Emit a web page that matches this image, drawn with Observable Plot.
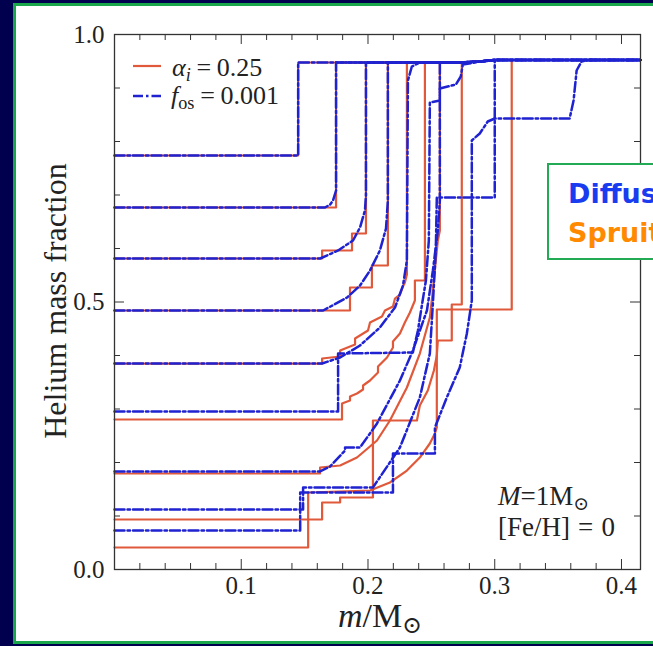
<!DOCTYPE html>
<html>
<head>
<meta charset="utf-8">
<script src="https://cdn.jsdelivr.net/npm/d3@7"></script>
<script src="https://cdn.jsdelivr.net/npm/@observablehq/plot@0.6"></script>
<style>
  html, body { margin: 0; padding: 0; }
  body { width: 653px; height: 646px; overflow: hidden; position: relative; background: #00004f; font-family: "Liberation Serif", "DejaVu Serif", serif; }
  #panel { position: absolute; left: 13px; top: 3px; width: 680px; height: 635px; background: #fff; border: 3px solid #1aa64b; }
  #chart { position: absolute; left: 0; top: 0; }
  .lbl { position: absolute; white-space: nowrap; line-height: 1; color: #222; }
  .lbl sub { font-size: 70%; vertical-align: -0.25em; }
  .sp { margin: 0 0.22em; }
  .sp2 { margin: 0 0.3em; }
  #box { position: absolute; left: 547px; top: 163px; width: 140px; height: 93px; background: #fff; border: 2px solid #22aa55; overflow: hidden; }
  #box div { position: absolute; left: 19px; font-family: "DejaVu Sans", sans-serif; font-weight: bold; font-size: 27px; line-height: 1; white-space: nowrap; }
</style>
</head>
<body>
<div id="panel"></div>
<div id="chart"></div>

<script>
// ---- axis ticks ----
const xMajorTicks = [0.1, 0.2, 0.3, 0.4];
const xMinorTicks = [0.02, 0.04, 0.06, 0.08, 0.12, 0.14, 0.16, 0.18, 0.22, 0.24, 0.26, 0.28, 0.32, 0.34, 0.36, 0.38];
const yMajorTicks = [0.0, 0.5, 1.0];
const yMinorTicks = [0.1, 0.2, 0.3, 0.4, 0.6, 0.7, 0.8, 0.9];

// ---- helium profiles: [m/Msun, Y] ----
// shared outer envelope (helium-rich plateau)
const topEnvelope = [[0.2724, 0.9477], [0.2882, 0.9495], [0.3000, 0.9523], [0.415, 0.9523]];

// alpha_i = 0.25 (red, solid)
const redA = [[0, 0.7738], [0.1449, 0.7738], [0.1449, 0.9477]];
const redB = [[0, 0.6766], [0.1748, 0.6766], [0.1748, 0.9477]];
const redC = [[0, 0.5813], [0.1638, 0.5813], [0.1638, 0.5963], [0.1874, 0.5963], [0.1874, 0.6280], [0.1984, 0.6280], [0.1984, 0.9477]];
const redD = [[0, 0.4841], [0.1858, 0.4841], [0.1858, 0.5271], [0.2031, 0.5271], [0.2031, 0.5682], [0.2157, 0.5682], [0.2157, 0.9477]];
const redE = [[0, 0.3850], [0.1638, 0.3850], [0.1638, 0.3944], [0.1780, 0.3981], [0.1780, 0.4093], [0.1898, 0.4206], [0.1898, 0.4318],
  [0.2000, 0.4467], [0.2016, 0.4617], [0.2110, 0.4729], [0.2134, 0.4841], [0.2197, 0.4916], [0.2213, 0.5065], [0.2252, 0.5140],
  [0.2276, 0.5290], [0.2291, 0.5364], [0.2307, 0.5514], [0.2307, 0.9477]];
const redF = [[0, 0.2804], [0.1795, 0.2804], [0.1795, 0.3103], [0.1858, 0.3159], [0.1858, 0.3234], [0.1913, 0.3290], [0.1961, 0.3364],
  [0.1961, 0.3439], [0.2016, 0.3533], [0.2079, 0.3682], [0.2079, 0.3794], [0.2150, 0.3963], [0.2197, 0.4150], [0.2197, 0.4262],
  [0.2252, 0.4411], [0.2291, 0.4617], [0.2331, 0.4804], [0.2370, 0.5028], [0.2370, 0.5402], [0.2449, 0.5402], [0.2449, 0.9477]];
const redG = [[0, 0.1794], [0.1622, 0.1794], [0.1622, 0.1907], [0.1780, 0.1944], [0.1913, 0.2093], [0.2071, 0.2411], [0.2173, 0.2785],
  [0.2307, 0.3402], [0.2409, 0.4037], [0.2488, 0.4710], [0.2512, 0.5215], [0.2535, 0.5776], [0.2551, 0.6150], [0.2567, 0.6336], [0.2567, 0.9477]];
const redH = [[0, 0.0935], [0.1638, 0.0935], [0.1638, 0.1252], [0.1780, 0.1252], [0.1780, 0.1346], [0.2039, 0.1346], [0.2039, 0.2785],
  [0.2386, 0.2785], [0.2409, 0.3065], [0.2472, 0.3346], [0.2520, 0.3720], [0.2543, 0.4000], [0.2551, 0.4280], [0.2661, 0.4280],
  [0.2661, 0.4953], [0.2740, 0.4953], [0.2740, 0.9477]];
const redI = [[0, 0.0411], [0.1528, 0.0411], [0.1528, 0.1439], [0.2016, 0.1477], [0.2173, 0.1626], [0.2307, 0.1850], [0.2409, 0.2093],
  [0.2488, 0.2355], [0.2528, 0.2542], [0.2543, 0.2654], [0.2543, 0.4860], [0.3134, 0.4860], [0.3134, 0.9523]];

// f_os = 0.001 (blue, dash-dot)
const blueA = [[0, 0.7738], [0.1449, 0.7738], [0.1449, 0.9477]];
const blueB = [[0, 0.6766], [0.1661, 0.6766], [0.1701, 0.6822], [0.1724, 0.6897], [0.1748, 0.7084], [0.1748, 0.9477]];
const blueC = [[0, 0.5813], [0.1622, 0.5813], [0.1764, 0.5963], [0.1882, 0.6150], [0.1937, 0.6393], [0.1976, 0.6710], [0.1984, 0.7000], [0.1984, 0.9477]];
const blueD = [[0, 0.4841], [0.1646, 0.4841], [0.1835, 0.5084], [0.1937, 0.5308], [0.2016, 0.5589], [0.2094, 0.5963], [0.2142, 0.6374], [0.2157, 0.6897], [0.2157, 0.9477]];
const blueE = [[0, 0.3850], [0.1638, 0.3850], [0.1780, 0.3963], [0.1937, 0.4187], [0.2094, 0.4523], [0.2213, 0.4897], [0.2276, 0.5308],
  [0.2307, 0.5776], [0.2315, 0.9140], [0.2346, 0.9402], [0.2409, 0.9477]];
const blueF = [[0, 0.2953], [0.1764, 0.2953], [0.1764, 0.4037], [0.2354, 0.4056], [0.2394, 0.4467], [0.2425, 0.4935], [0.2457, 0.5402],
  [0.2480, 0.6150], [0.2488, 0.8729], [0.2567, 0.8766], [0.2567, 0.8991], [0.2693, 0.9065], [0.2732, 0.9215], [0.2748, 0.9439], [0.2843, 0.9477]];
const blueG = [[0, 0.1832], [0.1622, 0.1832], [0.1701, 0.1926], [0.1819, 0.2224], [0.1819, 0.2280], [0.1937, 0.2280], [0.2071, 0.2729],
  [0.2252, 0.3533], [0.2354, 0.4093], [0.2465, 0.4841], [0.2512, 0.5589], [0.2551, 0.6336], [0.2567, 0.6897], [0.2567, 0.9477]];
const blueH = [[0, 0.1121], [0.1488, 0.1121], [0.1488, 0.1533], [0.2039, 0.1533], [0.2252, 0.2280], [0.2409, 0.3215], [0.2488, 0.4037],
  [0.2512, 0.4972], [0.2535, 0.5963], [0.2543, 0.6953], [0.3000, 0.6953], [0.3000, 0.9523]];
const blueI = [[0, 0.0729], [0.1465, 0.0729], [0.1465, 0.1439], [0.2197, 0.1439], [0.2197, 0.2168], [0.2528, 0.2168], [0.2528, 0.2654],
  [0.2622, 0.3215], [0.2724, 0.3776], [0.2780, 0.4411], [0.2819, 0.5028], [0.2819, 0.8019], [0.2882, 0.8150], [0.2945, 0.8374],
  [0.3000, 0.8430], [0.3591, 0.8430], [0.3622, 0.8766], [0.3646, 0.9327], [0.3685, 0.9495], [0.3748, 0.9523]];

const redProfiles = {A: redA, B: redB, C: redC, D: redD, E: redE, F: redF, G: redG, H: redH, I: redI};
const blueProfiles = {A: blueA, B: blueB, C: blueC, D: blueD, E: blueE, F: blueF, G: blueG, H: blueH, I: blueI};

function toRows(profiles, series) {
  const rows = [];
  for (const [key, pts] of Object.entries(profiles)) {
    const last = pts[pts.length - 1][0];
    const full = pts.concat(topEnvelope.filter(p => p[0] > last));
    for (const [m, y] of full) rows.push({series, id: series + key, m, y});
  }
  return rows;
}
const redRows = toRows(redProfiles, "alpha");
const blueRows = toRows(blueProfiles, "fos");

const W = 653, H = 646, mL = 114, mR = 13, mT = 34, mB = 77;
const ph = H - mT - mB, pw = W - mL - mR;
const axisColor = "#333";

const chart = Plot.plot({
  width: W, height: H,
  marginLeft: mL, marginRight: mR, marginTop: mT, marginBottom: mB,
  style: {background: "transparent", fontFamily: "Liberation Serif, DejaVu Serif, serif", fontSize: "25px", color: "#222"},
  x: {domain: [0, 0.415]},
  y: {domain: [0, 1]},
  marks: [
    Plot.line(redRows, {x: "m", y: "y", z: "id", stroke: "#e0593a", strokeWidth: 2.2}),
    Plot.line(blueRows, {x: "m", y: "y", z: "id", stroke: "#1f22d0", strokeWidth: 2.5, strokeDasharray: "10,3,2.5,3"}),
    Plot.frame({stroke: axisColor, strokeWidth: 1.3}),
    Plot.tickX(xMinorTicks, {x: d => d, insetTop: ph - 6, stroke: axisColor}),
    Plot.tickX(xMinorTicks, {x: d => d, insetBottom: ph - 6, stroke: axisColor}),
    Plot.tickX(xMajorTicks, {x: d => d, insetTop: ph - 10, stroke: axisColor}),
    Plot.tickX(xMajorTicks, {x: d => d, insetBottom: ph - 10, stroke: axisColor}),
    Plot.tickY(yMinorTicks, {y: d => d, insetRight: pw - 6, stroke: axisColor}),
    Plot.tickY(yMinorTicks, {y: d => d, insetLeft: pw - 6, stroke: axisColor}),
    Plot.tickY(yMajorTicks, {y: d => d, insetRight: pw - 10, stroke: axisColor}),
    Plot.tickY(yMajorTicks, {y: d => d, insetLeft: pw - 10, stroke: axisColor}),
    Plot.axisX(xMajorTicks, {tickSize: 0, tickPadding: 7, tickFormat: d3.format(".1f"), label: null}),
    Plot.axisY(yMajorTicks, {tickSize: 0, tickPadding: 10, tickFormat: d3.format(".1f"), label: null})
  ]
});
document.getElementById("chart").appendChild(chart);
</script>

<!-- legend -->
<svg style="position:absolute;left:130px;top:58px" width="36" height="46">
  <line x1="3" x2="31" y1="8" y2="8" stroke="#e0593a" stroke-width="2.2"/>
  <line x1="3" x2="31" y1="38" y2="38" stroke="#1f22d0" stroke-width="2.5" stroke-dasharray="10,3,2.5,3"/>
</svg>
<div class="lbl" style="left:172px;top:55px;font-size:26px"><i>α</i><sub><i>i</i></sub><span class="sp">=</span>0.25</div>
<div class="lbl" style="left:171px;top:83px;font-size:26px"><i>f</i><sub>os</sub><span class="sp">=</span>0.001</div>

<!-- axis titles -->
<div class="lbl" style="left:55px;top:301px;font-size:32px;transform:translate(-50%,-50%) rotate(-90deg)">Helium mass fraction</div>
<div class="lbl" style="left:380px;top:618px;font-size:34px;transform:translate(-50%,-50%)"><i>m</i>/M<sub>⊙</sub></div>

<!-- annotation -->
<div class="lbl" style="left:498px;top:483px;font-size:27px"><i>M</i>=1M<sub>⊙</sub></div>
<div class="lbl" style="left:498px;top:514px;font-size:27px">[Fe/H]<span class="sp2">=</span>0</div>

<!-- overlay box -->
<div id="box">
  <div style="top:15px;color:#1a3cf0">Diffusion</div>
  <div style="top:54px;color:#ff8a00">Spruit</div>
</div>
</body>
</html>
